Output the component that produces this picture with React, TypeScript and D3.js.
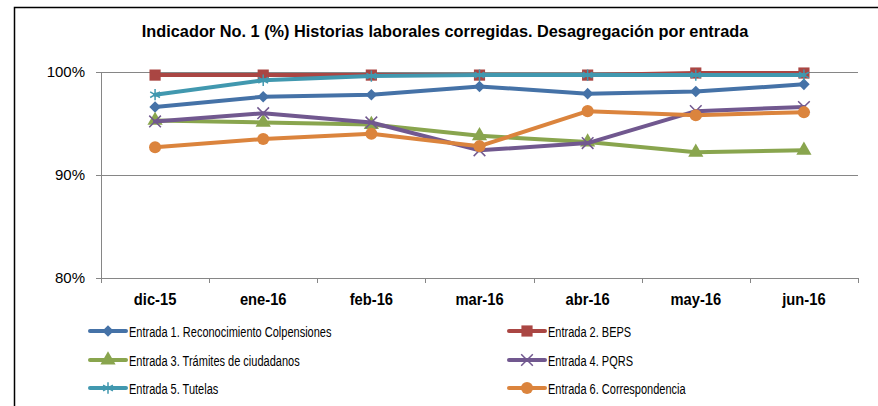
import React from 'react';
import * as d3 from 'd3';

const TITLE = 'Indicador No. 1 (%) Historias laborales corregidas. Desagregación por entrada';

const MONTHS = ['dic-15', 'ene-16', 'feb-16', 'mar-16', 'abr-16', 'may-16', 'jun-16'];
const Y_TICKS = [0.8, 0.9, 1.0];

const SERIES_NAMES = [
    'Entrada 1. Reconocimiento Colpensiones',
    'Entrada 2. BEPS',
    'Entrada 3. Trámites de ciudadanos',
    'Entrada 4. PQRS',
    'Entrada 5. Tutelas',
    'Entrada 6. Correspondencia'
];

const ENTRADA_1 = [0.966, 0.976, 0.978, 0.986, 0.979, 0.981, 0.988];
const ENTRADA_2 = [0.997, 0.997, 0.997, 0.997, 0.997, 0.999, 0.999];
const ENTRADA_3 = [0.953, 0.951, 0.949, 0.938, 0.932, 0.922, 0.924];
const ENTRADA_4 = [0.952, 0.960, 0.951, 0.924, 0.931, 0.962, 0.966];
const ENTRADA_5 = [0.978, 0.992, 0.996, 0.997, 0.997, 0.997, 0.997];
const ENTRADA_6 = [0.927, 0.935, 0.940, 0.928, 0.962, 0.958, 0.961];

const COLORS = ['#4572A7', '#AA4643', '#89A54E', '#71588F', '#4198AF', '#DB843D'];

const FONT = '"Liberation Sans", Arial, sans-serif';

const W = 878;
const H = 406;
const M = {left: 101, right: 858, top: 72, bottom: 278};

const symbols = [
    d3.symbol().type(d3.symbolDiamond2).size(85),
    d3.symbol().type(d3.symbolSquare).size(125),
    d3.symbol().type(d3.symbolTriangle).size(100),
    d3.symbol().type(d3.symbolX).size(90),
    d3.symbol().type(d3.symbolAsterisk).size(90),
    d3.symbol().type(d3.symbolCircle).size(115)
];
const strokedMarker = [false, false, false, true, true, false];

function Marker({i, x, y}: {i: number; x: number; y: number}) {
    const c = COLORS[i];
    return (
        <path
            d={symbols[i]() as string}
            transform={`translate(${x},${y})`}
            fill={strokedMarker[i] ? 'none' : c}
            stroke={c}
            strokeWidth={strokedMarker[i] ? 1.5 : 0}
        />
    );
}

export default function App() {
    const data = [ENTRADA_1, ENTRADA_2, ENTRADA_3, ENTRADA_4, ENTRADA_5, ENTRADA_6];

    const x = d3.scalePoint<string>().domain(MONTHS).range([M.left, M.right]).padding(0.5);
    const y = d3.scaleLinear().domain([0.8, 1.0]).range([M.bottom, M.top]);
    const step = x.step();

    const line = d3.line<number>()
        .x((_, i) => x(MONTHS[i]) as number)
        .y((d) => y(d));

    const fmt = d3.format('.0%');

    const legendCols = [90, 509];
    const legendRows = [331, 360, 388];

    return (
        <svg width={W} height={H} style={{position: 'absolute', left: 0, top: 0, background: '#fff'}}>
            {/* frame */}
            <path d={`M14.5,${H} V7.5 H${W}`} fill="none" stroke="#000" strokeWidth={1.5} />

            <text transform="translate(445,37) scale(0.96,1)" textAnchor="middle" fontFamily={FONT}
                fontWeight="bold" fontSize={17} fill="#000">
                {TITLE}
            </text>

            {/* grid & y axis */}
            {Y_TICKS.map((t) => (
                <g key={t}>
                    <line x1={M.left - 5} x2={M.right} y1={Math.round(y(t)) + 0.5} y2={Math.round(y(t)) + 0.5}
                        stroke="#868686" strokeWidth={1} />
                    <text x={85} y={y(t) + 5} textAnchor="end" fontFamily={FONT} fontSize={15} fill="#000">
                        {fmt(t)}
                    </text>
                </g>
            ))}
            <line x1={M.left + 0.5} x2={M.left + 0.5} y1={M.top} y2={M.bottom} stroke="#868686" />

            {/* x ticks */}
            {d3.range(MONTHS.length + 1).map((k) => {
                const tx = Math.round(M.left + k * step) + 0.5;
                return <line key={k} x1={tx} x2={tx} y1={M.bottom} y2={M.bottom + 5} stroke="#868686" />;
            })}
            {MONTHS.map((m) => (
                <text key={m} transform={`translate(${x(m)},305) scale(0.92,1)`} textAnchor="middle"
                    fontFamily={FONT} fontWeight="bold" fontSize={16} fill="#000">
                    {m}
                </text>
            ))}

            {/* series */}
            {data.map((vals, i) => (
                <g key={i}>
                    <path d={line(vals) as string} fill="none" stroke={COLORS[i]} strokeWidth={4}
                        strokeLinejoin="round" strokeLinecap="round" />
                    {vals.map((v, j) => (
                        <Marker key={j} i={i} x={x(MONTHS[j]) as number} y={y(v)} />
                    ))}
                </g>
            ))}

            {/* legend */}
            {SERIES_NAMES.map((name, i) => {
                const lx = legendCols[i % 2];
                const ly = legendRows[Math.floor(i / 2)];
                return (
                    <g key={name}>
                        <line x1={lx} x2={lx + 36} y1={ly} y2={ly} stroke={COLORS[i]} strokeWidth={4}
                            strokeLinecap="round" />
                        <Marker i={i} x={lx + 18} y={ly} />
                        <text transform={`translate(${lx + 39},${ly + 5.5}) scale(0.71,1)`} fontFamily={FONT}
                            fontSize={15.5} fill="#000">
                            {name}
                        </text>
                    </g>
                );
            })}
        </svg>
    );
}
